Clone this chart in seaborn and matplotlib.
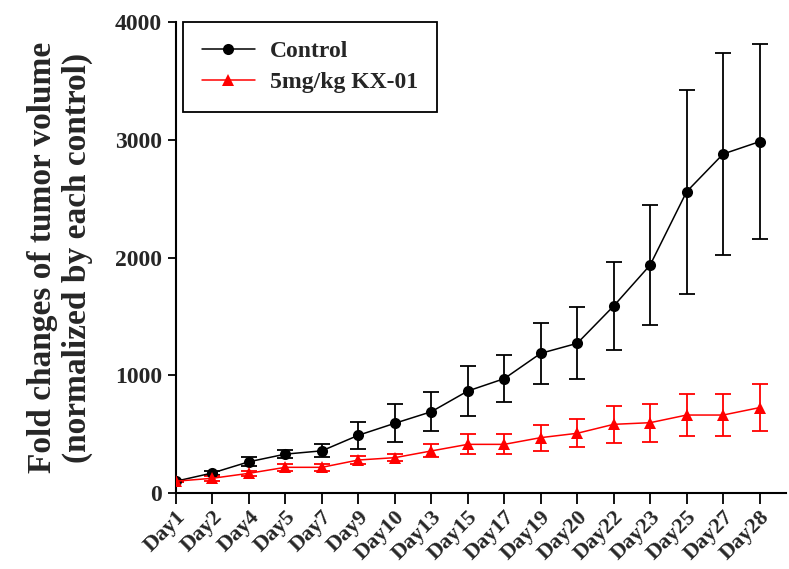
#!/usr/bin/env python3

"""Tumour volume fold change over time, control vs KX-01."""

import seaborn as sns
import pandas as pd
import matplotlib.pyplot as plt

# DATA
days = ["Day1", "Day2", "Day4", "Day5", "Day7", "Day9", "Day10", "Day13", "Day15",
        "Day17", "Day19", "Day20", "Day22", "Day23", "Day25", "Day27", "Day28"]
control_mean = [100, 170, 265, 330, 358, 490, 592, 690, 866, 971, 1186, 1271,
                1588, 1936, 2559, 2879, 2984]
control_err = [10, 20, 40, 35, 55, 115, 160, 165, 210, 200, 260, 305, 375, 510,
               865, 860, 830]
kx_mean = [100, 125, 167, 218, 218, 280, 300, 357, 413, 413, 470, 507, 583, 597,
           662, 662, 725]
kx_err = [10, 20, 20, 30, 30, 35, 30, 55, 85, 85, 110, 120, 160, 160, 175, 175, 200]

series_names = ["Control", "5mg/kg KX-01"]
series_colors = ["black", "red"]
series_markers = ["o", "^"]

# LONG TABLE FOR SEABORN
x_pos = list(range(len(days)))
df = pd.DataFrame({
    "pos": x_pos * 2,
    "value": control_mean + kx_mean,
    "err": control_err + kx_err,
    "group": [series_names[0]] * len(days) + [series_names[1]] * len(days),
})

# THEME
sns.set_theme(style="ticks")
plt.rcParams["font.family"] = ["Liberation Serif", "DejaVu Serif"]
plt.rcParams["font.weight"] = "bold"

fig = plt.figure(figsize=(7.89, 5.69), dpi=100)
ax = fig.add_axes([0.223, 0.1336, 0.773, 0.8277])

# error bars first so markers sit on top
for name, color in zip(series_names, series_colors):
    sub = df[df["group"] == name]
    ax.errorbar(sub["pos"], sub["value"], yerr=sub["err"], fmt="none",
                ecolor=color, elinewidth=1.3, capsize=6, capthick=1.3, zorder=2)

sns.lineplot(data=df, x="pos", y="value", hue="group", style="group",
             hue_order=series_names, style_order=series_names,
             palette=series_colors, markers=series_markers, dashes=False,
             markersize=8, markeredgewidth=0, linewidth=1.1, ax=ax, zorder=3)

# AXES
ax.set_xlim(0, 16.72)
ax.set_ylim(0, 4000)
ax.set_yticks([0, 1000, 2000, 3000, 4000])
ax.set_xticks(x_pos)
ax.set_xticklabels(days, rotation=45, ha="right", rotation_mode="anchor",
                   fontsize=16, fontweight="bold")
plt.setp(ax.get_yticklabels(), fontsize=17, fontweight="bold")
ax.tick_params(axis="x", length=8, width=1.3, color="black", pad=2)
ax.tick_params(axis="y", length=6, width=1.3, color="black", pad=4)
for side in ["left", "bottom"]:
    ax.spines[side].set_linewidth(1.5)
    ax.spines[side].set_color("black")
sns.despine(ax=ax)

ax.set_xlabel("")
ax.set_ylabel("Fold changes of tumor volume\n(normalized by each control)",
              fontsize=24, fontweight="bold", labelpad=16, linespacing=1.15)

# LEGEND
leg = ax.legend(loc="upper left", bbox_to_anchor=(0.011, 1.0), borderaxespad=0,
                frameon=True, fancybox=False, edgecolor="black", framealpha=1,
                prop={"size": 17, "weight": "bold"}, handlelength=2.25,
                borderpad=0.8, labelspacing=0.4, handletextpad=0.65)
leg.get_frame().set_linewidth(1.3)

fig.savefig("out.png", dpi=100)
